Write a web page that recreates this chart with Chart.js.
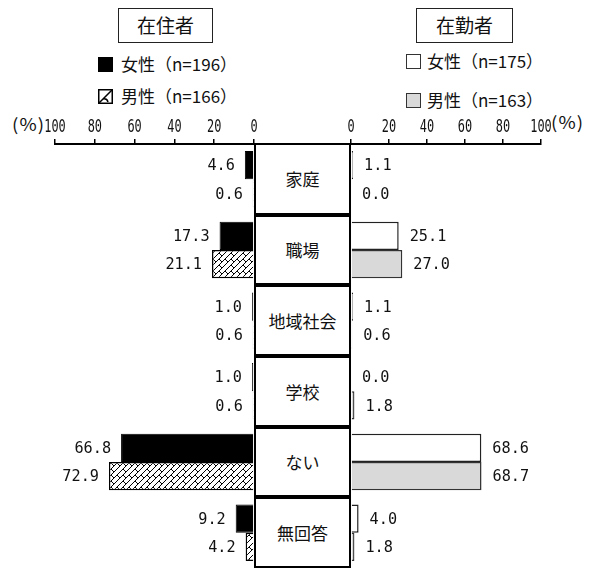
<!DOCTYPE html>
<html>
<head>
<meta charset="utf-8">
<script src="https://cdn.jsdelivr.net/npm/chart.js@4"></script>
<style>
  body { margin: 0; background: #fff; }
  #wrap { position: relative; width: 596px; height: 570px; background: #fff; font-family: "Noto Sans CJK JP", sans-serif; color: #111; }
  .title { position: absolute; border: 1.5px solid #222; box-sizing: border-box; text-align: center; font-size: 19px; line-height: 32px; }
  .legend { position: absolute; font-size: 17px; line-height: 18px; white-space: nowrap; }
  .sw { position: absolute; width: 15px; height: 15px; box-sizing: border-box; }
  .pct { position: absolute; font-size: 17px; line-height: 20px; letter-spacing: 1px; transform: scaleX(1.1); transform-origin: left; }
  .cat { position: absolute; left: 254px; width: 97px; box-sizing: border-box; border: 2px solid #000; background: #fff;
         display: flex; align-items: center; justify-content: center; font-size: 17px; z-index: 2; }
  canvas { position: absolute; }
</style>
</head>
<body>
<div id="wrap">
  <div class="title" style="left:118px;top:8px;width:95px;height:35px">在住者</div>
  <div class="title" style="left:416px;top:8px;width:97px;height:35px">在勤者</div>

  <canvas id="sw1" class="sw" width="15" height="15" style="left:98px;top:57px"></canvas>
  <div class="legend" style="left:121px;top:55px">女性（n=196）</div>
  <canvas id="sw2" class="sw" width="15" height="15" style="left:98px;top:89px"></canvas>
  <div class="legend" style="left:121px;top:87px">男性（n=166）</div>

  <div class="sw" style="left:406px;top:54px;border:1.5px solid #333;background:#fff"></div>
  <div class="legend" style="left:427px;top:52px">女性（n=175）</div>
  <div class="sw" style="left:406px;top:93px;border:1.5px solid #333;background:#d9d9d9"></div>
  <div class="legend" style="left:427px;top:91px">男性（n=163）</div>

  <div class="pct" style="left:12px;top:114px">(%)</div>
  <div class="pct" style="left:551px;top:112px">(%)</div>

  <canvas id="leftChart" width="270" height="470" style="left:0;top:100px"></canvas>
  <canvas id="rightChart" width="270" height="470" style="left:326px;top:100px"></canvas>
  <div id="center"></div>
</div>

<script>
// データ
const categories = ['家庭', '職場', '地域社会', '学校', 'ない', '無回答'];
const residentFemale = [4.6, 17.3, 1.0, 1.0, 66.8, 9.2];   // 在住者 女性 n=196
const residentMale   = [0.6, 21.1, 0.6, 0.6, 72.9, 4.2];   // 在住者 男性 n=166
const workerFemale   = [1.1, 25.1, 1.1, 0.0, 68.6, 4.0];   // 在勤者 女性 n=175
const workerMale     = [0.0, 27.0, 0.6, 1.8, 68.7, 1.8];   // 在勤者 男性 n=163
const tickValues = [0, 20, 40, 60, 80, 100];

const tickFont = '17px "DejaVu Sans Mono", monospace';
const valueFont = '16px "DejaVu Sans Mono", monospace';

// 斜線ハッチ
const makeHatch = () => {
    const c = document.createElement('canvas');
    c.width = c.height = 12;
    const g = c.getContext('2d');
    g.fillStyle = '#fff';
    g.fillRect(0, 0, 12, 12);
    g.strokeStyle = '#000';
    g.lineWidth = 1;
    g.beginPath();
    g.moveTo(0, 6); g.lineTo(6, 0);
    g.moveTo(0, 12); g.lineTo(12, 0);
    g.moveTo(6, 12); g.lineTo(12, 6);
    g.moveTo(3, 3); g.lineTo(6, 6);
    g.moveTo(9, 3); g.lineTo(12, 6);
    g.moveTo(3, 9); g.lineTo(6, 12);
    g.stroke();
    return c;
};
const hatchCanvas = makeHatch();
const hatch = hatchCanvas.getContext('2d').createPattern(hatchCanvas, 'repeat');

// 凡例スウォッチ
const sw1 = document.getElementById('sw1').getContext('2d');
sw1.fillStyle = '#000';
sw1.fillRect(0, 0, 15, 15);
const sw2 = document.getElementById('sw2').getContext('2d');
sw2.fillStyle = '#fff';
sw2.fillRect(0, 0, 15, 15);
sw2.strokeStyle = '#000';
sw2.lineWidth = 1.5;
sw2.strokeRect(0.75, 0.75, 13.5, 13.5);
sw2.beginPath();
sw2.moveTo(1, 14); sw2.lineTo(14, 1);
sw2.moveTo(5, 10); sw2.quadraticCurveTo(9, 9, 10, 13);
sw2.stroke();

// 中央のカテゴリ枠
const center = document.getElementById('center');
const rowTop = 144, rowH = (568 - 144) / categories.length;
categories.forEach((cat, i) => {
    const d = document.createElement('div');
    d.className = 'cat';
    d.style.top = (rowTop + i * rowH - 1 + (i > 0 ? 1 : 0)) + 'px';
    d.style.height = (rowH + (i > 0 ? 0 : 1)) + 'px';
    d.textContent = cat;
    center.appendChild(d);
});

// 細長い文字を描く
const narrowText = (ctx, text, x, y, sx) => {
    ctx.save();
    ctx.translate(x, y);
    ctx.scale(sx, 1);
    ctx.fillText(text, 0, 0);
    ctx.restore();
};

// 数値ラベルと目盛ラベル
const valueLabels = {
    id: 'valueLabels',
    afterDatasetsDraw(chart, args, opts) {
        const ctx = chart.ctx;
        ctx.save();
        ctx.fillStyle = '#111';
        ctx.font = valueFont;
        ctx.textBaseline = 'middle';
        ctx.textAlign = opts.side === 'left' ? 'right' : 'left';
        chart.data.datasets.forEach((ds, i) => {
            chart.getDatasetMeta(i).data.forEach((bar, j) => {
                const x = opts.side === 'left' ? bar.x - 10 : bar.x + 11;
                narrowText(ctx, ds.data[j].toFixed(1), x, bar.y + 1, 0.95);
            });
        });
        const sx = chart.scales.x;
        ctx.font = tickFont;
        ctx.textAlign = 'center';
        ctx.textBaseline = 'alphabetic';
        tickValues.forEach(v => {
            narrowText(ctx, String(v), sx.getPixelForValue(v), sx.bottom - 12, 0.7);
        });
        ctx.restore();
    }
};

const makeOptions = (side) => ({
    indexAxis: 'y',
    responsive: false,
    animation: false,
    layout: { padding: side === 'left' ? { left: 55, right: 16, top: 0, bottom: 2 } : { left: 25, right: 55, top: 0, bottom: 2 } },
    datasets: { bar: { categoryPercentage: 0.8, barPercentage: 1.0 } },
    scales: {
        x: {
            position: 'top',
            min: 0,
            max: 100,
            reverse: side === 'left',
            afterBuildTicks: (scale) => { scale.ticks = tickValues.map(v => ({ value: v })); },
            afterFit: (scale) => { scale.height = 44; },
            ticks: { color: 'rgba(0,0,0,0)', font: { size: 12 }, padding: 1, maxRotation: 0 },
            grid: { drawOnChartArea: false, drawTicks: true, tickLength: 5, color: '#000', lineWidth: 1.5 },
            border: { display: true, color: '#000', width: 2 }
        },
        y: { display: false }
    },
    plugins: {
        legend: { display: false },
        tooltip: { enabled: false },
        valueLabels: { side }
    }
});

new Chart(document.getElementById('leftChart'), {
    type: 'bar',
    data: {
        labels: categories,
        datasets: [
            { label: '女性（n=196）', data: residentFemale, backgroundColor: '#000', borderColor: '#000', borderWidth: 1 },
            { label: '男性（n=166）', data: residentMale, backgroundColor: hatch, borderColor: '#000', borderWidth: 1.5 }
        ]
    },
    options: makeOptions('left'),
    plugins: [valueLabels]
});

new Chart(document.getElementById('rightChart'), {
    type: 'bar',
    data: {
        labels: categories,
        datasets: [
            { label: '女性（n=175）', data: workerFemale, backgroundColor: '#fff', borderColor: '#222', borderWidth: 1.5 },
            { label: '男性（n=163）', data: workerMale, backgroundColor: '#d9d9d9', borderColor: '#333', borderWidth: 1.5 }
        ]
    },
    options: makeOptions('right'),
    plugins: [valueLabels]
});
</script>
</body>
</html>
